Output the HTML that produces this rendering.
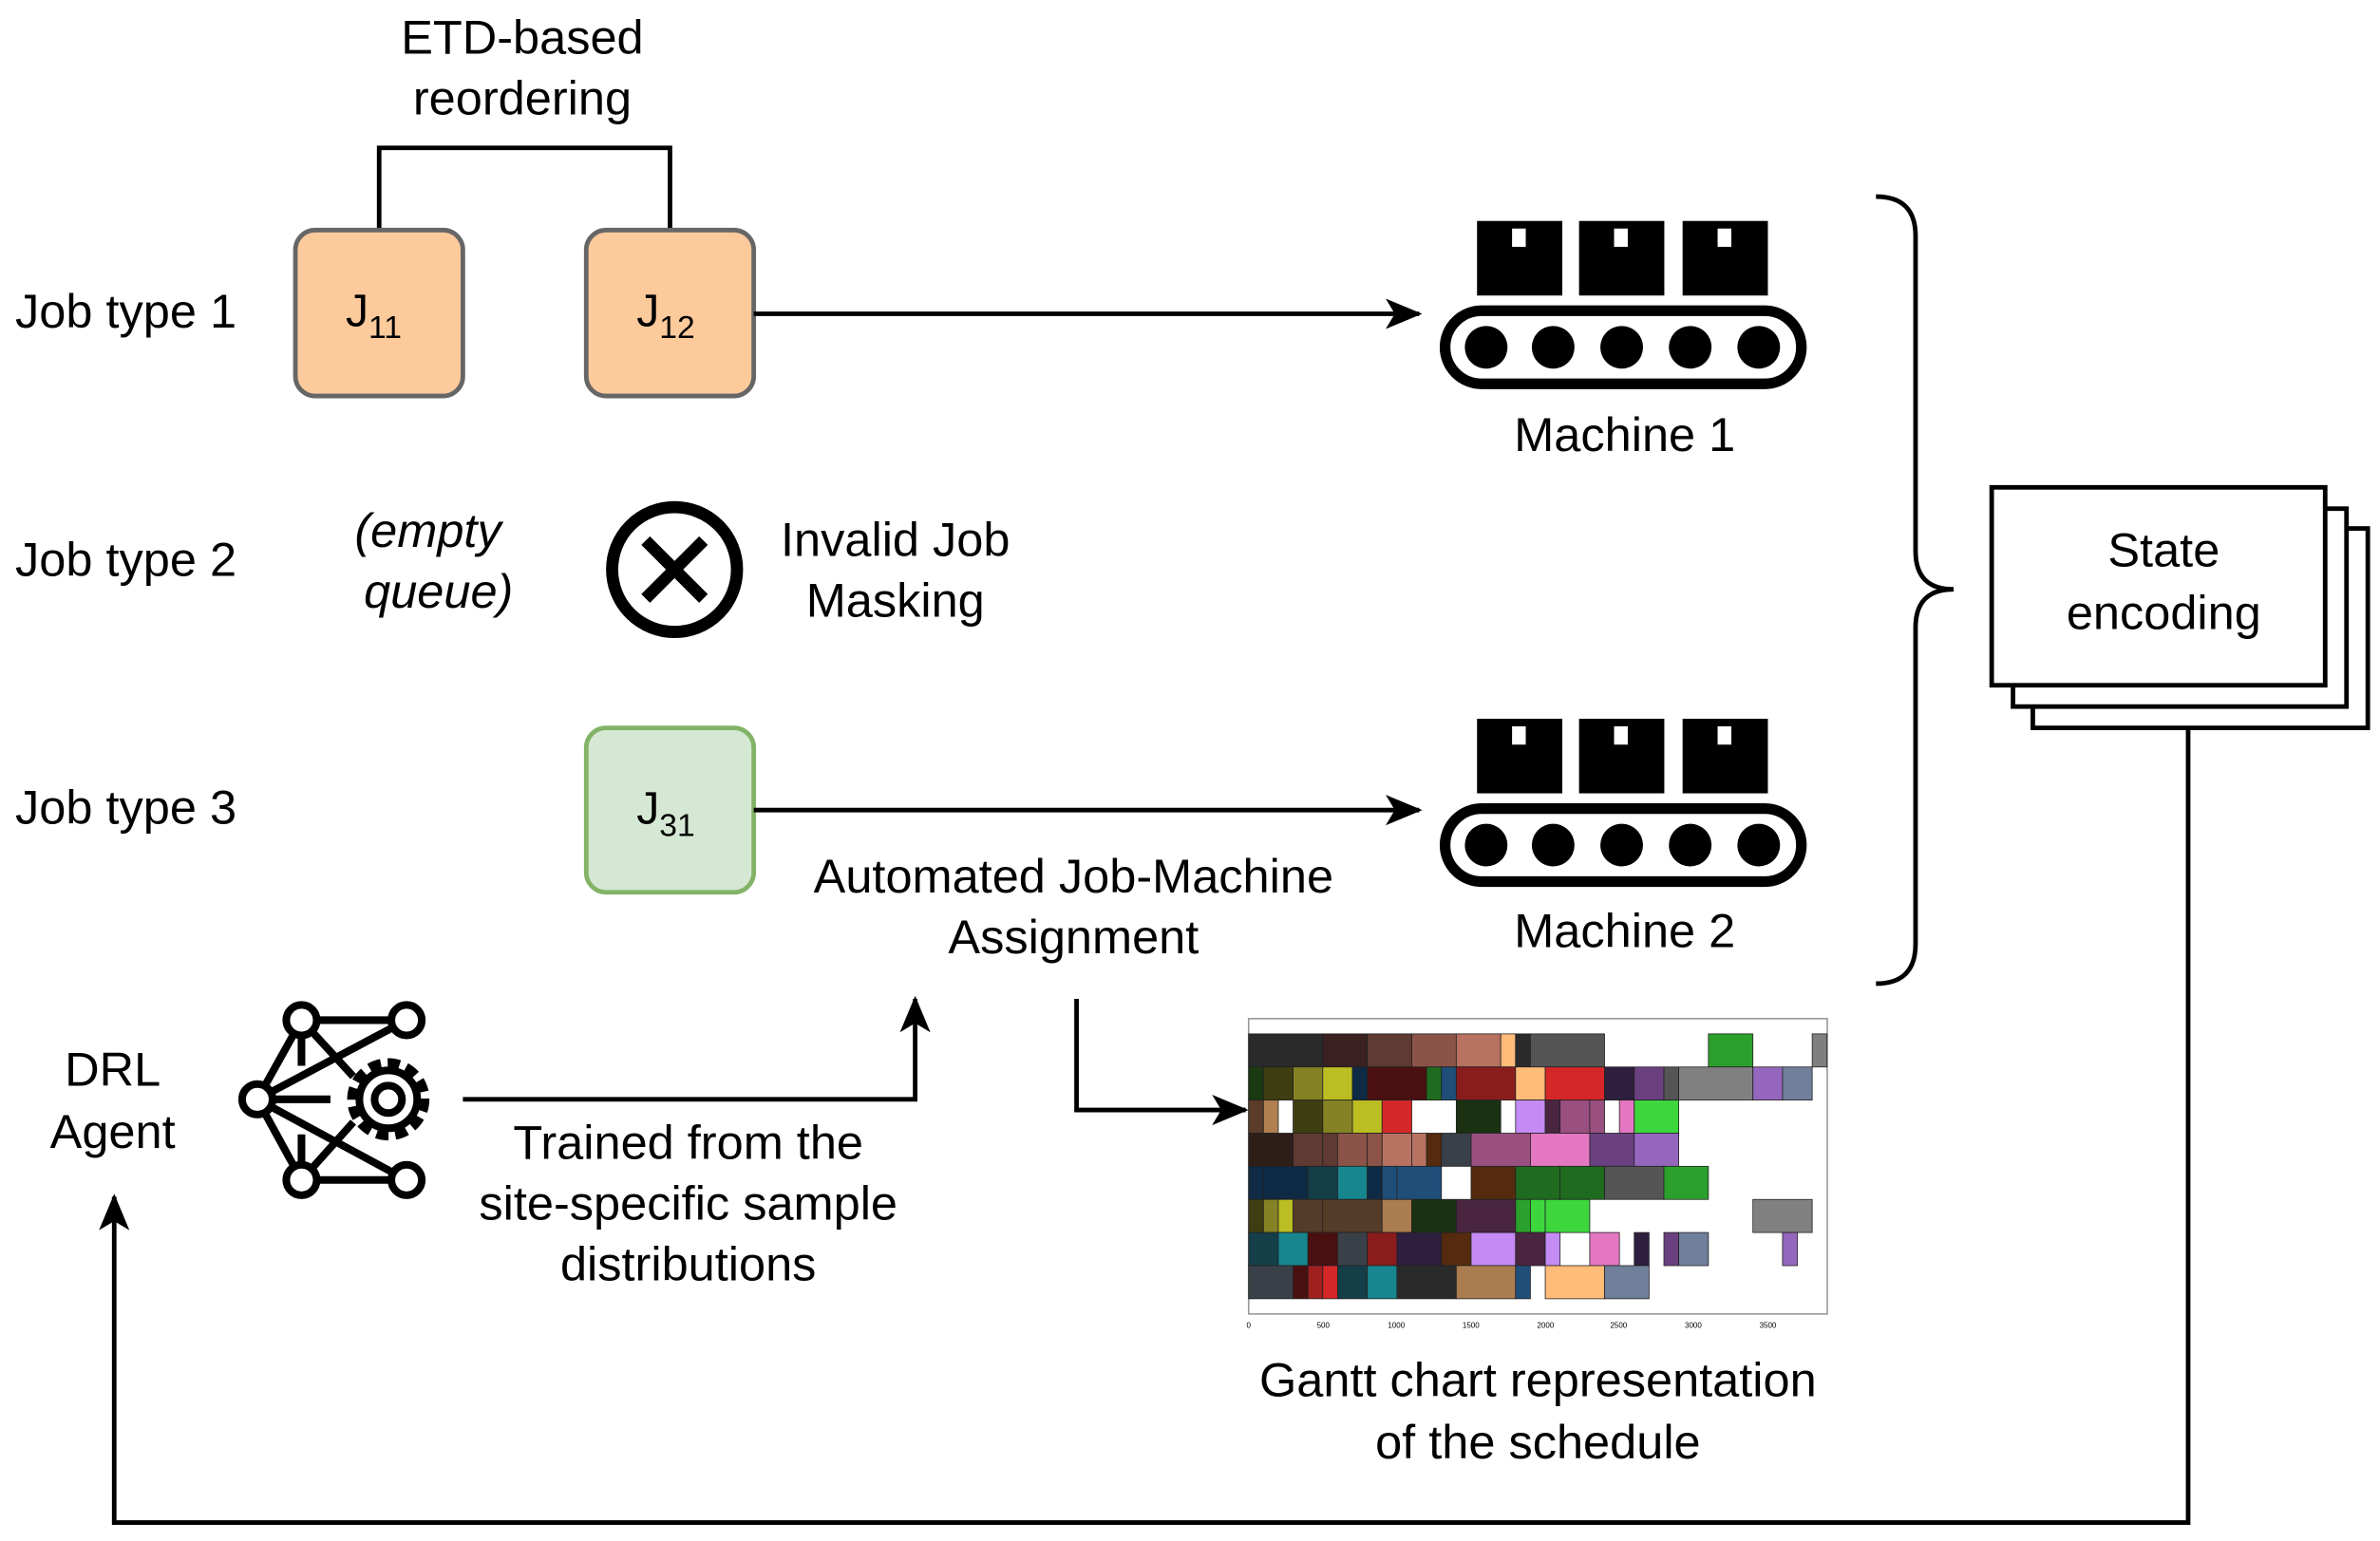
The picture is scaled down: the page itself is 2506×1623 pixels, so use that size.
<!DOCTYPE html>
<html><head><meta charset="utf-8"><style>
html,body{margin:0;padding:0;background:#fff;}
svg{display:block;}
text{font-family:"Liberation Sans",Arial,Helvetica,sans-serif;fill:#000;}
</style></head><body>
<svg id="s" width="2506" height="1623" viewBox="0 0 1563 1012" xmlns="http://www.w3.org/2000/svg">
<defs>
<marker id="ah2" markerWidth="24" markerHeight="24" refX="22" refY="12" orient="auto" markerUnits="userSpaceOnUse" viewBox="0 0 24 24">
<path d="M0,2 L24,12 L0,22 L6,12 z" fill="#000"/></marker>
<g id="mach">
<rect x="970" y="145" width="56" height="49" fill="#000"/>
<rect x="1037" y="145" width="56" height="49" fill="#000"/>
<rect x="1105" y="145" width="56" height="49" fill="#000"/>
<rect x="993" y="150" width="9" height="12" fill="#fff"/>
<rect x="1060" y="150" width="9" height="12" fill="#fff"/>
<rect x="1128" y="150" width="9" height="12" fill="#fff"/>
<rect x="949" y="204" width="234" height="48" rx="24" fill="none" stroke="#000" stroke-width="7"/>
<circle cx="976" cy="228" r="14"/><circle cx="1020" cy="228" r="14"/><circle cx="1065" cy="228" r="14"/><circle cx="1110" cy="228" r="14"/><circle cx="1155" cy="228" r="14"/>
</g>
</defs>

<g font-size="31.5">
<text x="343" y="35" text-anchor="middle">ETD-based</text>
<text x="343" y="75" text-anchor="middle">reordering</text>
</g>
<polyline points="249,151 249,97 440,97 440,151" fill="none" stroke="#000" stroke-width="3"/>

<rect x="194" y="151" width="110" height="109" rx="13" fill="#fdca9c" stroke="#666" stroke-width="3"/>
<rect x="385" y="151" width="110" height="109" rx="13" fill="#fdca9c" stroke="#666" stroke-width="3"/>
<text x="227" y="214" font-size="30">J<tspan font-size="21" dy="8">11</tspan></text>
<text x="418" y="214" font-size="30">J<tspan font-size="21" dy="8">12</tspan></text>
<line x1="495" y1="206" x2="932" y2="206" stroke="#000" stroke-width="3" marker-end="url(#ah2)"/>

<use href="#mach"/>
<text x="1067" y="296" font-size="31.5" text-anchor="middle">Machine 1</text>

<g font-size="31.5">
<text x="10" y="215">Job type 1</text>
<text x="10" y="378">Job type 2</text>
<text x="10" y="541">Job type 3</text>
<text x="281" y="359" font-style="italic" text-anchor="middle">(empty</text>
<text x="288" y="399" font-style="italic" text-anchor="middle">queue)</text>
<text x="588" y="365" text-anchor="middle">Invalid Job</text>
<text x="588" y="405" text-anchor="middle">Masking</text>
</g>

<circle cx="443" cy="374" r="41" fill="none" stroke="#000" stroke-width="8"/>
<line x1="424" y1="355" x2="462" y2="393" stroke="#000" stroke-width="8"/>
<line x1="462" y1="355" x2="424" y2="393" stroke="#000" stroke-width="8"/>

<rect x="385" y="478" width="110" height="108" rx="13" fill="#d5e8d4" stroke="#82b366" stroke-width="3"/>
<text x="418" y="541" font-size="30">J<tspan font-size="21" dy="8">31</tspan></text>
<line x1="495" y1="532" x2="932" y2="532" stroke="#000" stroke-width="3" marker-end="url(#ah2)"/>

<use href="#mach" transform="translate(0,327)"/>
<g font-size="31.5" text-anchor="middle">
<text x="1067" y="622">Machine 2</text>
<text x="705" y="586">Automated Job-Machine</text>
<text x="705" y="626">Assignment</text>
</g>

<path d="M1232,129 Q1258,129 1258,155 L1258,362 Q1258,387 1283,387 Q1258,387 1258,412 L1258,620 Q1258,646 1232,646" fill="none" stroke="#000" stroke-width="3"/>

<rect x="1335" y="347" width="220" height="131" fill="#fff" stroke="#000" stroke-width="3"/>
<rect x="1322" y="334" width="219" height="130" fill="#fff" stroke="#000" stroke-width="3"/>
<rect x="1308" y="320" width="219" height="130" fill="#fff" stroke="#000" stroke-width="3"/>
<g font-size="31.5" text-anchor="middle">
<text x="1421" y="372">State</text>
<text x="1421" y="413">encoding</text>
</g>

<polyline points="1437,478 1437,1000 75,1000 75,786" fill="none" stroke="#000" stroke-width="3" marker-end="url(#ah2)"/>

<g font-size="31.5" text-anchor="middle">
<text x="74" y="713">DRL</text>
<text x="74" y="754">Agent</text>
</g>

<g stroke="#000" stroke-width="5" fill="none">
<line x1="198" y1="670" x2="267" y2="670"/><line x1="198" y1="775" x2="267" y2="775"/>
<line x1="169" y1="722" x2="198" y2="670"/><line x1="169" y1="722" x2="198" y2="775"/>
<line x1="198" y1="670" x2="198" y2="700"/><line x1="198" y1="745" x2="198" y2="775"/>
<line x1="169" y1="722" x2="267" y2="670"/><line x1="169" y1="722" x2="267" y2="775"/>
<line x1="198" y1="670" x2="232" y2="707"/><line x1="198" y1="775" x2="232" y2="737"/>
<line x1="169" y1="722" x2="217" y2="722"/>
<circle cx="198" cy="670" r="10" fill="#fff"/><circle cx="267" cy="670" r="10" fill="#fff"/>
<circle cx="169" cy="722" r="10" fill="#fff"/><circle cx="198" cy="775" r="10" fill="#fff"/><circle cx="267" cy="775" r="10" fill="#fff"/>
<circle cx="255" cy="722" r="24" stroke-width="6" stroke-dasharray="8 4.5" fill="#fff"/>
<circle cx="255" cy="722" r="19" stroke-width="5"/>
<circle cx="255" cy="722" r="9" stroke-width="5"/>
</g>

<polyline points="304,722 601,722 601,656" fill="none" stroke="#000" stroke-width="3" marker-end="url(#ah2)"/>
<g font-size="31.5" text-anchor="middle">
<text x="452" y="761">Trained from the</text>
<text x="452" y="801">site-specific sample</text>
<text x="452" y="841">distributions</text>
</g>

<polyline points="707,656 707,729 818,729" fill="none" stroke="#000" stroke-width="3" marker-end="url(#ah2)"/>

<rect x="820" y="669" width="380" height="194" fill="#fff" stroke="#999" stroke-width="1"/>
<g id="gantt"></g>
<g font-size="5" fill="#333" text-anchor="middle">
<text x="820" y="872">0</text><text x="869" y="872">500</text><text x="917" y="872">1000</text><text x="966" y="872">1500</text><text x="1015" y="872">2000</text><text x="1063" y="872">2500</text><text x="1112" y="872">3000</text><text x="1161" y="872">3500</text>
</g>

<g font-size="31.5" text-anchor="middle">
<text x="1010" y="917">Gantt chart representation</text>
<text x="1010" y="958">of the schedule</text>
</g>
</svg>
<script>
var rows=[
[[0,5,"#2a2a2a"],[5,8,"#3a2020"],[8,11,"#5e3a32"],[11,14,"#8c5448"],[14,17,"#b87262"],[17,18,"#ffbb78"],[18,19,"#2a2a2a"],[19,24,"#555"],[31,34,"#2ca02c"],[38,39,"#7f7f7f"]],
[[0,1,"#1a3a12"],[1,3,"#3f3d12"],[3,5,"#848224"],[5,7,"#bcbd22"],[7,8,"#0f2a44"],[8,12,"#4a1010"],[12,13,"#1f6b1f"],[13,14,"#1f4e79"],[14,18,"#8b1c1c"],[18,20,"#ffbb78"],[20,24,"#d62728"],[24,26,"#2e1f3e"],[26,28,"#6a4080"],[28,29,"#555"],[29,34,"#808080"],[34,36,"#9467bd"],[36,38,"#70809a"]],
[[0,1,"#5a3c28"],[1,2,"#b08050"],[3,5,"#3f3d12"],[5,7,"#848224"],[7,9,"#bcbd22"],[9,11,"#d62728"],[14,17,"#1a3212"],[18,20,"#c58bf5"],[20,21,"#4a2540"],[21,23,"#995080"],[23,24,"#995080"],[25,26,"#e377c2"],[26,29,"#3dd63d"]],
[[0,2,"#2e1e18"],[2,3,"#2e1e18"],[3,5,"#5e3a32"],[5,6,"#5e3a32"],[6,8,"#8c5448"],[8,9,"#8c5448"],[9,11,"#b87262"],[11,12,"#b87262"],[12,13,"#552a0e"],[13,15,"#3a4048"],[15,19,"#995080"],[19,23,"#e377c2"],[23,26,"#6a4080"],[26,29,"#9467bd"]],
[[0,1,"#0f2a44"],[1,4,"#0f2a44"],[4,6,"#143e48"],[6,8,"#17868f"],[8,9,"#0f2a44"],[9,10,"#1f4e79"],[10,13,"#1f4e79"],[15,18,"#552a0e"],[18,21,"#1f6b1f"],[21,24,"#1f6b1f"],[24,28,"#555"],[28,31,"#2ca02c"]],
[[0,1,"#3f3d12"],[1,2,"#848224"],[2,3,"#bcbd22"],[3,5,"#553c28"],[5,9,"#553c28"],[9,11,"#ab7c50"],[11,14,"#1a3212"],[14,18,"#4a2540"],[18,19,"#2ca02c"],[19,20,"#3dd63d"],[20,23,"#3dd63d"],[34,38,"#808080"]],
[[0,2,"#143e48"],[2,4,"#17868f"],[4,6,"#4a1010"],[6,8,"#3a4048"],[8,10,"#8b1c1c"],[10,13,"#2e1f3e"],[13,15,"#552a0e"],[15,18,"#c58bf5"],[18,20,"#4a2540"],[20,21,"#c58bf5"],[23,25,"#e377c2"],[26,27,"#2e1f3e"],[28,29,"#6a4080"],[29,31,"#70809a"],[36,37,"#9467bd"]],
[[0,3,"#3a4048"],[3,4,"#4a1010"],[4,5,"#a02020"],[5,6,"#d62728"],[6,8,"#143e48"],[8,10,"#17868f"],[10,14,"#2a2a2a"],[14,18,"#ab7c50"],[18,19,"#1f4e79"],[20,24,"#ffbb78"],[24,27,"#70809a"]]];
var g=document.getElementById("gantt"),h="";
rows.forEach(function(r,i){var y=679+i*21.75;r.forEach(function(b){
var x=820+b[0]*9.74,w=(b[1]-b[0])*9.74;
h+='<rect x="'+x.toFixed(2)+'" y="'+y.toFixed(2)+'" width="'+w.toFixed(2)+'" height="21.75" fill="'+b[2]+'" stroke="#222" stroke-width="0.5"/>';});});
g.innerHTML=h;
</script>
</body></html>
